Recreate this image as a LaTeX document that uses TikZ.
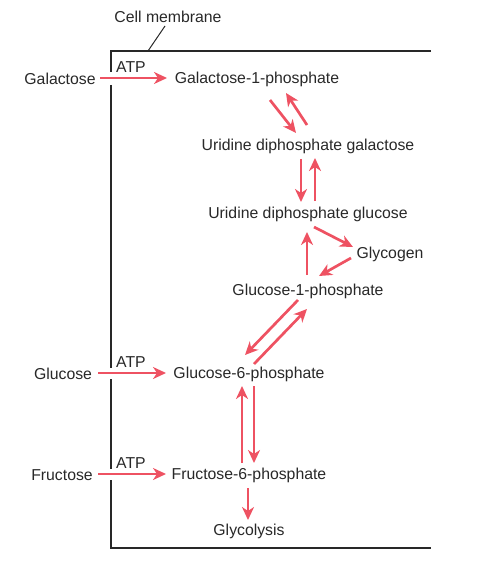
\documentclass[tikz,border=0pt]{standalone}
\usepackage{fontspec}
\setmainfont{Liberation Sans}
\usetikzlibrary{calc,arrows.meta}
\definecolor{arrred}{RGB}{238,82,98}
\definecolor{txt}{RGB}{40,40,40}
\tikzset{
  lbl/.style={inner sep=0pt, text=txt, font=\fontsize{15.8}{18}\selectfont},
  atp/.style={inner sep=0pt, text=txt, font=\fontsize{15.8}{18}\selectfont},
  ra/.style={draw=arrred, line width=2.7pt, -{Stealth[length=13pt,width=12pt,inset=4pt]}},
  mem/.style={draw=txt, line width=1.3pt}
}
\begin{document}
\begin{tikzpicture}[x=1pt,y=-1pt]
\useasboundingbox (0,0) rectangle (484,561);
% membrane
\draw[mem] (431,51) -- (111,51) -- (111,72);
\draw[mem] (111,85) -- (111,368);
\draw[mem] (111,379) -- (111,469);
\draw[mem] (111,480) -- (111,548) -- (431,548);
\node[lbl] (cm) at (168,17) {Cell membrane};
\coordinate (cmtip) at (148,51);
\draw[draw=txt, line width=1pt] ($(cm)+(-3,9)$) -- (cmtip);
% nodes
\node[lbl] (gal) at (60,79) {Galactose};
\node[lbl] (glc) at (63,374) {Glucose};
\node[lbl] (fru) at (62,475) {Fructose};
\node[atp] (atp1) at (131,67) {ATP};
\node[atp] (atp2) at (131,362) {ATP};
\node[atp] (atp3) at (131,463) {ATP};
\node[lbl] (g1p) at (257,79) {Galactose-1-phosphate};
\node[lbl] (udpgal) at (308,146) {Uridine diphosphate galactose};
\node[lbl] (udpglc) at (308,214) {Uridine diphosphate glucose};
\node[lbl] (glyc) at (390,254) {Glycogen};
\node[lbl] (gp1) at (308,291) {Glucose-1-phosphate};
\node[lbl] (g6p) at (249,374) {Glucose-6-phosphate};
\node[lbl] (f6p) at (249,475) {Fructose-6-phosphate};
\node[lbl] (glys) at (249,531) {Glycolysis};
% entry arrows
\draw[ra] ($(gal)+(40,-1)$) -- ($(g1p)+(-90,-1)$);
\draw[ra] ($(glc)+(35,-1)$) -- ($(g6p)+(-83,-1)$);
\draw[ra] ($(fru)+(36,-1)$) -- ($(f6p)+(-83,-1)$);
% galactose pathway
\draw[ra] ($(g1p)+(13,21)$) -- ($(udpgal)+(-12,-13)$);
\draw[ra] ($(udpgal)+(-1,-21)$) -- ($(g1p)+(29,14)$);
\draw[ra] ($(udpgal)+(-7,13)$) -- ($(udpglc)+(-7,-12)$);
\draw[ra] ($(udpglc)+(7,-13)$) -- ($(udpgal)+(7,12)$);
\draw[ra] ($(gp1)+(-1,-16)$) -- ($(udpglc)+(-1,18)$);
\draw[ra] ($(udpglc)+(6,13)$) -- ($(glyc)+(-37,-7)$);
\draw[ra] ($(glyc)+(-39,4)$) -- ($(gp1)+(11,-15)$);
\draw[ra] ($(gp1)+(-10,9)$) -- ($(g6p)+(-4,-19)$);
\draw[ra] ($(g6p)+(5,-10)$) -- ($(gp1)+(-1,18)$);
\draw[ra] ($(f6p)+(-7,-12)$) -- ($(g6p)+(-7,12)$);
\draw[ra] ($(g6p)+(5,12)$) -- ($(f6p)+(5,-12)$);
\draw[ra] ($(f6p)+(-1,13)$) -- ($(glys)+(-1,-11)$);
\end{tikzpicture}
\end{document}
